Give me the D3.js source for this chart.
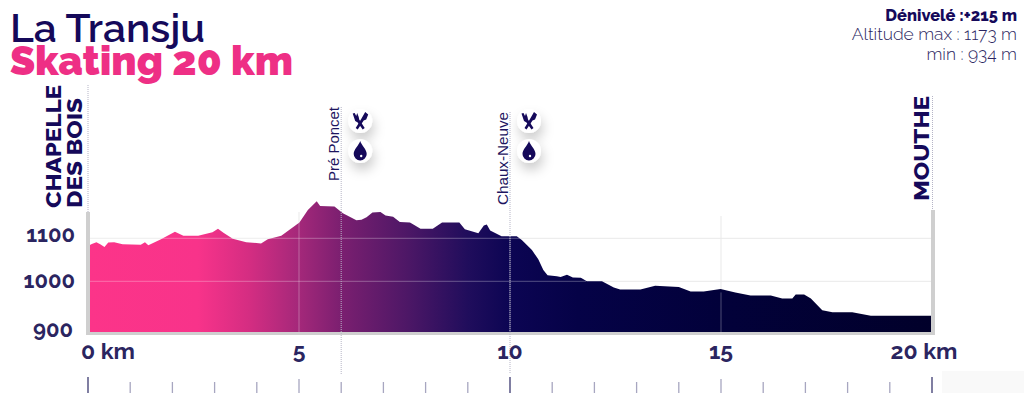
<!DOCTYPE html>
<html><head><meta charset="utf-8">
<style>html,body{margin:0;padding:0;background:#fff;overflow:hidden}svg{display:block}</style>
<script src="https://cdn.jsdelivr.net/npm/d3@7"></script></head>
<body><svg id="c" width="1024" height="393"></svg>
<script>
const distanceKm=[0,.09,.2,.29,.39,.48,.62,.82,1.25,1.35,1.43,1.73,2.06,2.26,2.61,2.95,3.08,3.21,3.43,3.75,4.1,4.26,4.58,5.01,5.21,5.42,5.5,5.84,6.04,6.36,6.48,6.6,6.74,6.93,7.05,7.23,7.39,7.63,7.88,8.17,8.39,8.8,8.93,9.25,9.38,9.45,9.53,9.8,10.16,10.28,10.52,10.67,10.79,10.89,11.11,11.2,11.35,11.49,11.68,11.82,12.18,12.46,12.61,13.09,13.44,14,14.28,14.59,14.99,15.34,15.7,16.18,16.45,16.69,16.77,16.97,17.13,17.4,17.64,18.11,18.55,20];
const altitudeM=[1082,1087,1091,1086,1080,1090,1091,1086,1085,1091,1084,1098,1115,1106,1106,1114,1122,1113,1099,1091,1088,1098,1106,1137,1166,1186,1175,1174,1158,1142,1143,1149,1160,1161,1153,1150,1138,1137,1122,1122,1137,1137,1121,1112,1130,1132,1118,1105,1105,1096,1073,1051,1026,1014,1012,1010,1015,1009,1008,1000,1000,988,984,984,991,989,980,980,985,978,972,972,966,966,974,974,966,943,939,939,932,932];
const yTicks=[900,1000,1100];
const xTicks=[0,5,10,15,20];
const xTickLabels=["0 km","5","10","15","20 km"];
const kmMarks=d3.range(0,21);
const stopNames=["Pré Poncet","Chaux-Neuve"];
const stopKm=[6,10];
const infoLines=["Dénivelé :+215 m","Altitude max : 1173 m","min : 934 m"];
const navy="#15095a", axisText="#2b2560", grey="#cfcfcf";
const font="Raleway,Lato,'Noto Sans',sans-serif";

const svg=d3.select("#c");
const x=d3.scaleLinear().domain([0,20]).range([88,932]);
const y=d3.scaleLinear().domain([900,1000,1100]).range([332,281.3,238.3]);
const defs=svg.append("defs");
const stops=[[0,"#fc3489"],[.13,"#f8338a"],[.19,"#d52d82"],[.25,"#a4287a"],[.3,"#7b1f70"],[.38,"#4c1766"],[.45,"#200d5c"],[.5,"#0c0553"],[.58,"#050247"],[.75,"#02013a"],[1,"#01002a"]];
const g=defs.append("linearGradient").attr("id","grad").attr("gradientUnits","userSpaceOnUse")
 .attr("x1",x(0)).attr("x2",x(20)).attr("y1",0).attr("y2",0);
stops.forEach(s=>g.append("stop").attr("offset",s[0]).attr("stop-color",s[1]));
const f=defs.append("filter").attr("id","sh").attr("x","-100%").attr("y","-100%").attr("width","300%").attr("height","300%");
f.append("feDropShadow").attr("dx",2).attr("dy",7).attr("stdDeviation",6).attr("flood-color","#000").attr("flood-opacity",.2);

svg.append("rect").attr("x",942).attr("y",371).attr("width",82).attr("height",22).attr("fill","#f9f9f9");

// grid under the area
svg.append("g").selectAll("line").data([1000,1100]).join("line")
 .attr("x1",x(0)).attr("x2",x(20)).attr("y1",d=>y(d)).attr("y2",d=>y(d))
 .attr("stroke","#e9e9e9").attr("stroke-width",1);
svg.append("line").attr("x1",x(15)).attr("x2",x(15)).attr("y1",216).attr("y2",332).attr("stroke","#e9e9e9");
svg.append("line").attr("x1",x(5)).attr("x2",x(5)).attr("y1",212).attr("y2",332).attr("stroke","#e9e9e9");

const area=d3.area().x((d,i)=>x(distanceKm[i])).y0(y(900)).y1(d=>y(d));
svg.append("path").datum(altitudeM).attr("d",area).attr("fill","url(#grad)");

// grid over the area
svg.append("g").selectAll("line").data([1000,1100]).join("line")
 .attr("x1",x(0)).attr("x2",d=>d==1000?x(11.8):x(10.25)).attr("y1",d=>y(d)).attr("y2",d=>y(d))
 .attr("stroke","#fff").attr("stroke-opacity",.3);
svg.append("g").selectAll("line").data([5,10,15]).join("line")
 .attr("x1",d=>x(d)).attr("x2",d=>x(d)).attr("y1",d=>y(altitudeM[d3.bisectLeft(distanceKm,d)])).attr("y2",332)
 .attr("stroke","#fff").attr("stroke-opacity",.3);

// frame
svg.append("rect").attr("x",86).attr("y",212).attr("width",4).attr("height",123).attr("fill",grey);
svg.append("rect").attr("x",931).attr("y",210).attr("width",4).attr("height",125).attr("fill",grey);
svg.append("rect").attr("x",86).attr("y",332).attr("width",849).attr("height",3).attr("fill",grey);

// dotted leaders
const dotted=[[x(0),85,212],[x(20)+.5,96,210],[x(6),107,374],[x(10),112,374]];
svg.append("g").selectAll("line").data(dotted).join("line")
 .attr("x1",d=>d[0]).attr("x2",d=>d[0]).attr("y1",d=>d[1]).attr("y2",d=>d[2])
 .attr("stroke","#b5b4c6").attr("stroke-width",1).attr("stroke-dasharray","1 1");

// y labels
svg.append("g").selectAll("text").data(yTicks).join("text")
 .attr("x",d=>d==900?73:75).attr("y",d=>({900:337,1000:288,1100:242})[d]).attr("text-anchor","end")
 .attr("font-family",font).attr("font-weight",700).attr("font-size",22).attr("fill",axisText).text(d=>d);
// x labels
svg.append("g").selectAll("text").data(xTicks).join("text")
 .attr("x",d=>x(d)+(d==0?20:d==20?-8:0)).attr("y",359).attr("text-anchor","middle")
 .attr("font-family",font).attr("font-weight",700).attr("font-size",23).attr("fill",axisText)
 .text((d,i)=>xTickLabels[i]);
// km ticks
svg.append("g").selectAll("line").data(kmMarks).join("line")
 .attr("x1",d=>x(d)).attr("x2",d=>x(d))
 .attr("y1",d=>d%10==0?377:d%5==0?379:382).attr("y2",393)
 .attr("stroke",d=>d%10==0?"#3c3a70":"#a7a6c0").attr("stroke-width",1.3);

// place names
function vtext(tx,ty,s,size,weight,fam,len,col){
 const t=svg.append("text").attr("transform",`translate(${tx},${ty}) rotate(-90)`)
  .attr("font-family",fam).attr("font-weight",weight).attr("font-size",size).attr("fill",col).text(s);
 if(len)t.attr("textLength",len).attr("lengthAdjust","spacingAndGlyphs");
}
vtext(61,208,"CHAPELLE",21,800,font,123,navy);
vtext(82,208,"DES BOIS",21,800,font,110,navy);
vtext(929,201,"MOUTHE",21,800,font,105,navy);
vtext(339,181,stopNames[0],14,400,"'Liberation Sans',sans-serif",74,"#1d1560");
vtext(508,205,stopNames[1],14,400,"'Liberation Sans',sans-serif",93,"#1d1560");

// service icons
const iconX=[x(stopKm[0])+19,x(stopKm[1])+19];
iconX.forEach(cx=>{
 [121,151].forEach(cy=>svg.append("circle").attr("cx",cx).attr("cy",cy).attr("r",12).attr("fill","#fff").attr("filter","url(#sh)"));
 const k=svg.append("g").attr("transform",`translate(${cx},121)`).attr("fill",navy);
 k.append("path").attr("d","M-7.5,-7.5 L-5.5,-8 L-4,-5 L-3,-8 L-1.5,-4 L-1,-1.5 L4.5,7 L2.5,8.5 L-2.5,1.5 L-5,0 Z");
 k.append("path").attr("d","M5,-9 L8,-6.5 L6,-1.5 L3.5,-0.5 L-2.5,8.5 L-4.5,7 L1,-2 Z");
 const w=svg.append("g").attr("transform",`translate(${cx},150.5)`);
 w.append("path").attr("fill",navy).attr("d","M0,-9.5 C1.5,-5 6.5,-1 6.5,3.5 A6.5,6.5 0 0 1 -6.5,3.5 C-6.5,-1 -1.5,-5 0,-9.5 Z");
 w.append("circle").attr("cx",1).attr("cy",5.5).attr("r",1.2).attr("fill","#fff");
});

// titles
svg.append("text").attr("x",10).attr("y",42).attr("font-family",font).attr("font-weight",600).attr("font-size",40)
 .attr("fill",navy).attr("textLength",195).attr("lengthAdjust","spacingAndGlyphs").text("La Transju");
svg.append("text").attr("x",10).attr("y",75).attr("font-family",font).attr("font-weight",900).attr("font-size",40)
 .attr("fill","#ee2f85").attr("textLength",283).attr("lengthAdjust","spacingAndGlyphs").text("Skating 20 km");

// info block
const infoY=[21,40,60];
svg.append("g").selectAll("text").data(infoLines).join("text")
 .attr("x",1017).attr("y",(d,i)=>infoY[i]).attr("text-anchor","end").attr("font-family",font)
 .attr("font-weight",(d,i)=>i==0?800:300).attr("font-size",(d,i)=>i==0?16.4:17.4)
 .attr("fill",(d,i)=>i==0?navy:"#2b2560").text(d=>d);
</script></body></html>
